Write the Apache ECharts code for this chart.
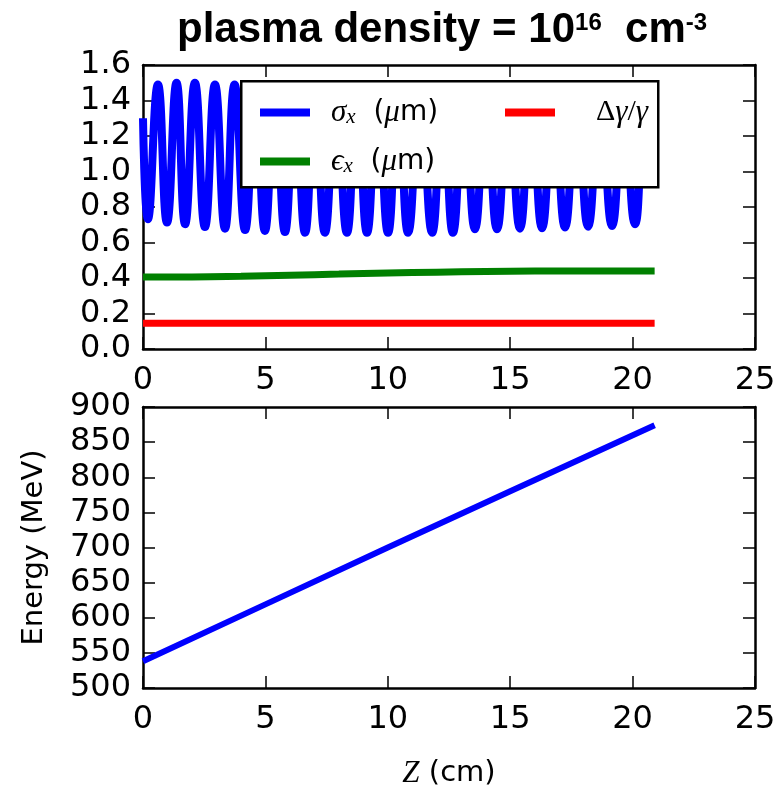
<!DOCTYPE html>
<html>
<head>
<meta charset="utf-8">
<script src="https://cdn.jsdelivr.net/npm/echarts@6/dist/echarts.min.js"></script>
<style>
  html, body { margin: 0; padding: 0; background: #fff; }
  #chart { width: 780px; height: 786px; }
</style>
</head>
<body>
<div id="chart"></div>
<script>
// Beam envelope sigma_x (um) along the plasma, listed crest / trough by crest / trough
const sigmaZ = [0, 0.20, 0.61, 0.98, 1.37, 1.72, 2.12, 2.53, 2.94, 3.35,
                3.74, 4.17, 4.58, 4.98, 5.39, 5.80, 6.21, 6.62, 7.02, 7.43,
                7.88, 8.33, 8.74, 9.15, 9.58, 10.01, 10.42, 10.83, 11.32, 11.81,
                12.24, 12.66, 13.11, 13.56, 14.01, 14.46, 14.93, 15.40, 15.85, 16.30,
                16.77, 17.24, 17.71, 18.18, 18.67, 19.16, 19.63, 20.10, 20.58, 20.90];
const sigmaVal = [1.30, 0.731, 1.49, 0.712, 1.50, 0.703, 1.50, 0.687, 1.49, 0.678,
                  1.49, 0.670, 1.48, 0.665, 1.48, 0.659, 1.47, 0.655, 1.47, 0.655,
                  1.46, 0.655, 1.46, 0.655, 1.46, 0.655, 1.45, 0.655, 1.45, 0.655,
                  1.45, 0.655, 1.45, 0.674, 1.44, 0.674, 1.44, 0.678, 1.44, 0.680,
                  1.44, 0.684, 1.43, 0.689, 1.43, 0.693, 1.43, 0.703, 1.43, 1.30];

// Normalised emittance epsilon_x (um)
const epsZ   = [0, 2, 4, 6, 8, 10, 12, 14, 16, 18, 20.9];
const epsVal = [0.405, 0.406, 0.410, 0.416, 0.422, 0.428, 0.433, 0.437, 0.439, 0.440, 0.440];

// Relative energy spread
const spreadZ   = [0, 5, 10, 15, 20.9];
const spreadVal = [0.145, 0.145, 0.145, 0.145, 0.145];

// Beam energy (MeV)
const energyZ   = [0, 5, 10, 15, 20.9];
const energyVal = [538, 619, 700, 780, 874];

// Axis ranges
const zRange      = { min: 0, max: 25, step: 5 };
const sizeRange   = { min: 0, max: 1.6, step: 0.2 };
const energyRange = { min: 500, max: 900, step: 50 };

const pairs = (xs, ys) => xs.map((x, i) => [x, ys[i]]);

const TICK_FONT = 'DejaVu Sans';
const MATH_FONT = 'Liberation Serif';
const BLUE = '#0000ff', GREEN = '#008000', RED = '#ff0000';

function frameAxis(kind, grid, range, position, showLabel, fmt) {
  return {
    type: 'value',
    gridIndex: grid,
    position: position,
    min: range.min, max: range.max, interval: range.step,
    splitLine: { show: false },
    axisLine: { show: true, onZero: false, lineStyle: { color: '#000', width: 2.5 } },
    axisTick: { show: true, inside: true, length: 12, lineStyle: { color: '#000', width: 1.5 } },
    axisLabel: {
      show: showLabel, margin: kind === 'x' ? 16 : 12,
      fontFamily: TICK_FONT, fontSize: 32, color: '#000',
      formatter: fmt
    }
  };
}

function mathRich(size) {
  return {
    it:  { fontFamily: MATH_FONT, fontStyle: 'italic', fontSize: size + 3, color: '#000' },
    sub: { fontFamily: MATH_FONT, fontStyle: 'italic', fontSize: Math.round(size * 0.75), color: '#000', verticalAlign: 'bottom', padding: [12, 0, 0, 0] },
    n:   { fontFamily: TICK_FONT, fontSize: size, color: '#000' },
    up:  { fontFamily: MATH_FONT, fontSize: size + 2, color: '#000' }
  };
}

const legendLabels = {
  'σx (μm)': '{it|σ}{sub|x}{n|  (}{it|μ}{n|m)}',
  'εx (μm)': '{it|ϵ}{sub|x}{n|  (}{it|μ}{n|m)}',
  'Δγ/γ':    '{up|Δ}{it|γ}{up|/}{it|γ}'
};

function legendAt(names, left, textGap) {
  return {
    data: names, orient: 'vertical', left: left, top: 92, z: 20,
    icon: 'rect', itemWidth: 50, itemHeight: 8, itemGap: 18,
    selectedMode: false,
    formatter: name => legendLabels[name],
    textStyle: { lineHeight: 30, padding: [0, 0, 0, textGap], rich: mathRich(28) }
  };
}

const chart = echarts.init(document.getElementById('chart'), null, { renderer: 'canvas' });

chart.setOption({
  backgroundColor: '#fff',
  animation: false,
  title: {
    text: '{b|plasma density = 10}{sup|16}{b|  cm}{sup|-3}',
    left: 172, top: 0,
    textStyle: {
      rich: {
        b:   { fontFamily: 'Liberation Sans', fontWeight: 'bold', fontSize: 42, color: '#000', lineHeight: 50 },
        sup: { fontFamily: 'Liberation Sans', fontSize: 24, color: '#000', verticalAlign: 'top', lineHeight: 50, padding: [6, 0, 0, 0] }
      }
    }
  },
  grid: [
    { left: 143, top: 65, width: 612, height: 284, outerBoundsMode: 'none' },
    { left: 143, top: 407, width: 612, height: 281, outerBoundsMode: 'none' }
  ],
  xAxis: [
    frameAxis('x', 0, zRange, 'bottom', true),
    frameAxis('x', 0, zRange, 'top', false),
    Object.assign(frameAxis('x', 1, zRange, 'bottom', true), {
      name: '{i|Z} (cm)', nameLocation: 'middle', nameGap: 70,
      nameTextStyle: {
        fontFamily: TICK_FONT, fontSize: 29, color: '#000',
        rich: { i: { fontFamily: MATH_FONT, fontStyle: 'italic', fontSize: 31, color: '#000' } }
      }
    }),
    frameAxis('x', 1, zRange, 'top', false)
  ],
  yAxis: [
    frameAxis('y', 0, sizeRange, 'left', true, v => v.toFixed(1)),
    frameAxis('y', 0, sizeRange, 'right', false),
    Object.assign(frameAxis('y', 1, energyRange, 'left', true), {
      name: 'Energy (MeV)', nameLocation: 'middle', nameGap: 94,
      nameTextStyle: { fontFamily: TICK_FONT, fontSize: 29, color: '#000' }
    }),
    frameAxis('y', 1, energyRange, 'right', false)
  ],
  legend: [
    legendAt(['σx (μm)', 'εx (μm)'], 255, 16),
    legendAt(['Δγ/γ'], 500, 36)
  ],
  graphic: [{
    type: 'rect', left: 240, top: 80, z: 10,
    shape: { width: 417, height: 106 },
    style: { fill: '#fff', stroke: '#000', lineWidth: 2.5 }
  }],
  series: [
    {
      name: 'σx (μm)', type: 'line', xAxisIndex: 0, yAxisIndex: 0,
      data: pairs(sigmaZ, sigmaVal), smooth: 0.5, symbol: 'none',
      color: BLUE, lineStyle: { color: BLUE, width: 8 }
    },
    {
      name: 'εx (μm)', type: 'line', xAxisIndex: 0, yAxisIndex: 0,
      data: pairs(epsZ, epsVal), smooth: true, symbol: 'none',
      color: GREEN, lineStyle: { color: GREEN, width: 7 }
    },
    {
      name: 'Δγ/γ', type: 'line', xAxisIndex: 0, yAxisIndex: 0,
      data: pairs(spreadZ, spreadVal), symbol: 'none',
      color: RED, lineStyle: { color: RED, width: 7 }
    },
    {
      name: 'Energy', type: 'line', xAxisIndex: 2, yAxisIndex: 2,
      data: pairs(energyZ, energyVal), symbol: 'none',
      color: BLUE, lineStyle: { color: BLUE, width: 6 }
    }
  ]
});
</script>
</body>
</html>
